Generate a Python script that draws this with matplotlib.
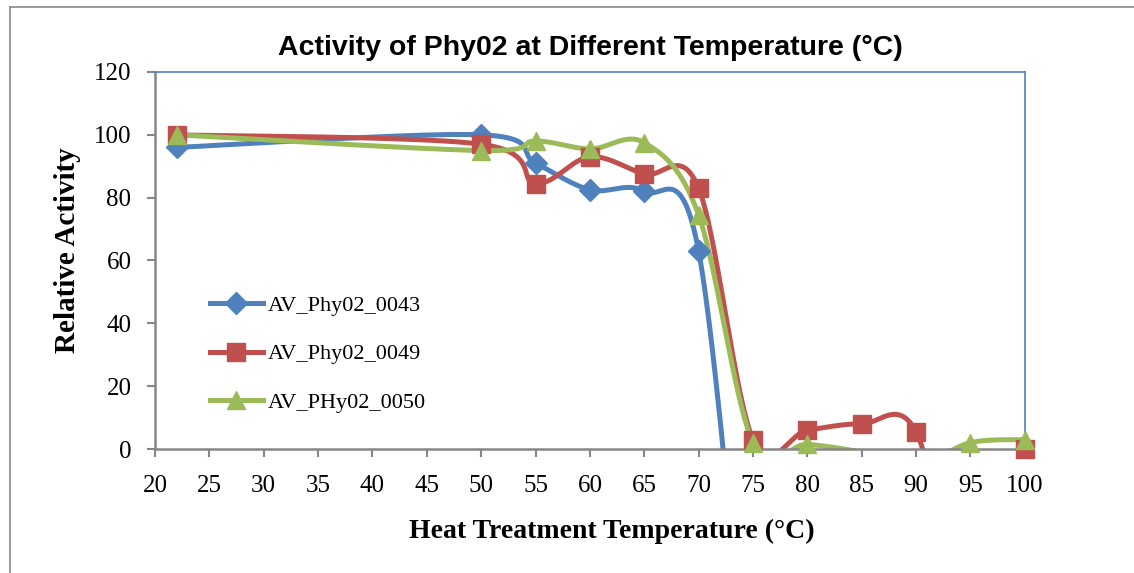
import numpy as np
import matplotlib.pyplot as plt
from matplotlib.lines import Line2D

# data (negative values sit below the axis and are hidden)
temps = [22, 50, 55, 60, 65, 70, 75, 80, 85, 90, 95, 100]
phy0043 = [96, 100, 91, 82.5, 82, 63, -100, np.nan, np.nan, np.nan, np.nan, np.nan]
phy0049 = [100, 97, 84.5, 93, 87.5, 83, 3, 6, 8, 5.5, -57, 0]
phy0050 = [100, 95, 98, 95.5, 97.5, 74.5, 2, 1.5, -1, -5, 2, 3]

names = ['AV_Phy02_0043', 'AV_Phy02_0049', 'AV_PHy02_0050']
colors = ['#4F81BD', '#C0504D', '#9BBB59']
markers = ['D', 's', '^']
msizes = [11, 13, 13]


def smooth(x, y, n=40):
    # excel-ish smoothed line: bezier segments with catmull-rom control points
    x = np.asarray(x, float)
    y = np.asarray(y, float)
    ok = ~np.isnan(y)
    p = np.column_stack([x[ok], y[ok]])
    out = []
    t = np.linspace(0, 1, n)[:, None]
    for i in range(len(p) - 1):
        p0 = p[i - 1] if i > 0 else p[i]
        p1, p2 = p[i], p[i + 1]
        p3 = p[i + 2] if i + 2 < len(p) else p[i + 1]
        c1 = p1 + (p2 - p0) / 6
        c2 = p2 - (p3 - p1) / 6
        seg = (1 - t)**3 * p1 + 3 * (1 - t)**2 * t * c1 + 3 * (1 - t) * t**2 * c2 + t**3 * p2
        out.append(seg)
    s = np.vstack(out)
    return s[:, 0], s[:, 1]


serif = ['Liberation Serif', 'DejaVu Serif']
plt.rcParams['font.family'] = serif

fig = plt.figure(figsize=(11.34, 5.73), dpi=100)
ax = fig.add_axes([0.1367, 0.2164, 0.767, 0.658])

handles = []
for vals, name, c, m, ms in zip([phy0043, phy0049, phy0050], names, colors, markers, msizes):
    sx, sy = smooth(temps, vals)
    ax.plot(sx, sy, color=c, lw=3.6, solid_capstyle='round', zorder=2)
    v = np.asarray(vals, float)
    keep = v >= 0
    ax.plot(np.asarray(temps)[keep], v[keep], ls='none', marker=m, ms=ms,
            color=c, mec=c, clip_on=False, zorder=3)
    handles.append(Line2D([], [], color=c, lw=3.6, marker=m, ms=ms, mec=c))

ax.set_xlim(20, 100)
ax.set_ylim(0, 120)
ax.set_xticks(np.arange(20, 101, 5))
ax.set_yticks(np.arange(0, 121, 20))
ax.tick_params(axis='both', labelsize=18, length=6, width=1.5, color='#868686')
ax.tick_params(axis='x', pad=13)
ax.tick_params(axis='y', pad=11)

for side in ['top', 'right']:
    ax.spines[side].set_color('#4F81BD')
    ax.spines[side].set_linewidth(1.2)
for side in ['left', 'bottom']:
    ax.spines[side].set_color('#868686')
    ax.spines[side].set_linewidth(1.8)

ax.set_title('Activity of Phy02 at Different Temperature (°C)', fontsize=20.5, fontweight='bold',
             family=['Liberation Sans', 'DejaVu Sans'], pad=12)
ax.set_xlabel('Heat Treatment Temperature (°C)', fontsize=20, fontweight='bold')
ax.set_ylabel('Relative Activity', fontsize=21, fontweight='bold')
ax.xaxis.set_label_coords(0.525, -0.185)
ax.yaxis.set_label_coords(-0.085, 0.528)

ax.legend(handles, names, loc='upper left', bbox_to_anchor=(0.04, 0.46), frameon=False,
          fontsize=16, handlelength=2.4, labelspacing=1.25, handletextpad=0.2)

# page frame around the chart
fig.add_artist(Line2D([10 / 1134, 10 / 1134], [0, 1 - 7 / 573], color='#888888', lw=1.2))
fig.add_artist(Line2D([10 / 1134, 1], [1 - 7 / 573, 1 - 7 / 573], color='#888888', lw=1.2))

fig.savefig('out.png', dpi=100)
